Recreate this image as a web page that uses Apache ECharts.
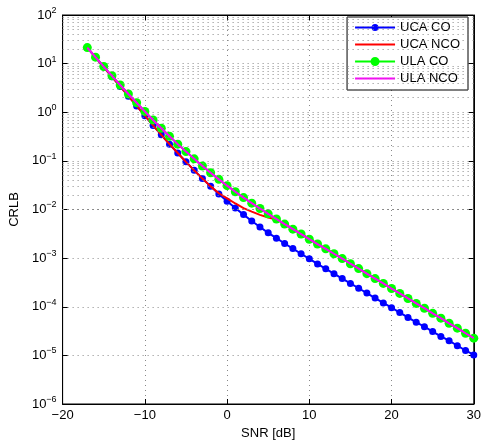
<!DOCTYPE html>
<html>
<head>
<meta charset="utf-8">
<script src="https://cdn.jsdelivr.net/npm/echarts@6/dist/echarts.min.js"></script>
<style>
  html, body { margin: 0; padding: 0; background: #fff; }
  #chart { width: 484px; height: 445px; }
</style>
</head>
<body>
<div id="chart"></div>
<script>
// SNR steps in dB
const snr = [-17, -16, -15, -14, -13, -12, -11, -10, -9, -8, -7, -6, -5, -4, -3, -2, -1,
  0, 1, 2, 3, 4, 5, 6, 7, 8, 9, 10, 11, 12, 13, 14, 15, 16, 17, 18, 19, 20,
  21, 22, 23, 24, 25, 26, 27, 28, 29, 30]

const ucaCo = [21.4, 13.5, 8.51, 5.37, 3.39, 2.14, 1.35, 0.851, 0.537, 0.343, 0.221, 0.145,
  0.0955, 0.0638, 0.0432, 0.0299, 0.0209, 0.0148, 0.0107, 0.00785, 0.00582, 0.00437,
  0.00331, 0.00257, 0.00200, 0.00157, 0.00123, 9.66e-4, 7.59e-4, 6.03e-4, 4.79e-4,
  3.80e-4, 3.02e-4, 2.40e-4, 1.91e-4, 1.51e-4, 1.20e-4, 9.55e-5, 7.59e-5, 6.03e-5,
  4.79e-5, 3.89e-5, 3.09e-5, 2.45e-5, 2.00e-5, 1.58e-5, 1.26e-5, 1.02e-5]

const ucaNco = [21.4, 13.5, 8.51, 5.37, 3.39, 2.14, 1.35, 0.851, 0.537, 0.343, 0.221, 0.145,
  0.0955, 0.0638, 0.0432, 0.0299, 0.0216, 0.0170, 0.0133, 0.0107, 0.00902, 0.00776,
  0.00685, 0.00624, 0.00507, 0.00399, 0.00317, 0.00248, 0.00197, 0.00157, 0.00124,
  9.89e-4, 7.76e-4, 6.17e-4, 4.85e-4, 3.85e-4, 3.06e-4, 2.40e-4, 1.90e-4, 1.50e-4,
  1.18e-4, 9.44e-5, 7.42e-5, 5.89e-5, 4.62e-5, 3.67e-5, 2.88e-5, 2.29e-5]

const ulaCo = [21.4, 13.6, 8.71, 5.62, 3.63, 2.37, 1.57, 1.035, 0.692, 0.468, 0.320, 0.221,
  0.155, 0.110, 0.0785, 0.0569, 0.0417, 0.0309, 0.0232, 0.0176, 0.0135, 0.0105,
  0.00813, 0.00638, 0.00501, 0.00394, 0.00313, 0.00245, 0.00195, 0.00155, 0.00123,
  9.77e-4, 7.67e-4, 6.10e-4, 4.79e-4, 3.80e-4, 3.02e-4, 2.37e-4, 1.88e-4, 1.48e-4,
  1.17e-4, 9.33e-5, 7.33e-5, 5.82e-5, 4.57e-5, 3.63e-5, 2.85e-5, 2.26e-5]

const ulaNco = [21.4, 13.6, 8.71, 5.62, 3.63, 2.37, 1.57, 1.035, 0.692, 0.468, 0.320, 0.221,
  0.155, 0.110, 0.0785, 0.0569, 0.0417, 0.0309, 0.0232, 0.0176, 0.0135, 0.0105,
  0.00813, 0.00638, 0.00501, 0.00394, 0.00313, 0.00245, 0.00195, 0.00155, 0.00123,
  9.77e-4, 7.67e-4, 6.10e-4, 4.79e-4, 3.80e-4, 3.02e-4, 2.37e-4, 1.88e-4, 1.48e-4,
  1.17e-4, 9.33e-5, 7.33e-5, 5.82e-5, 4.57e-5, 3.63e-5, 2.85e-5, 2.26e-5]

const xTicks = [-20, -10, 0, 10, 20, 30]
const decades = [-6, -5, -4, -3, -2, -1, 0, 1]
const minorSteps = [2, 3, 4, 5, 6, 7, 8, 9]

const font = 'Liberation Sans, Arial, Helvetica, sans-serif'
const gridDots = { type: [1, 4], color: '#888', width: 1 }

// legend icons: plain line, line with small dot, line with bigger dot
const iconLine = 'path://M0,6L40,6L40,8L0,8Z'
const iconDotSmall = 'path://M0,6L40,6L40,8L0,8Z M16.5,7A3.5,3.5 0 1 1 23.5,7A3.5,3.5 0 1 1 16.5,7Z'
const iconDotBig = 'path://M0,6L40,6L40,8L0,8Z M15.5,7A4.5,4.5 0 1 1 24.5,7A4.5,4.5 0 1 1 15.5,7Z'

function pairs(values) {
  return snr.map((s, i) => [s, values[i]])
}

// dotted minor grid at 2..9 x 10^k
const minorLines = []
decades.forEach(e => {
  minorSteps.forEach(m => minorLines.push({ yAxis: m * Math.pow(10, e) }))
})

function minus(v) {
  return String(v).replace('-', '\u2212')
}

const chart = echarts.init(document.getElementById('chart'))

const option = {
  animation: false,
  textStyle: { fontFamily: font },
  grid: { left: 59, right: 8, top: 15, bottom: 38, show: true, borderColor: '#000', borderWidth: 1 },
  legend: {
    data: [
      { name: 'UCA CO', icon: iconDotSmall },
      { name: 'UCA NCO', icon: iconLine },
      { name: 'ULA CO', icon: iconDotBig },
      { name: 'ULA NCO', icon: iconLine }
    ],
    orient: 'vertical',
    right: 16,
    top: 17,
    itemWidth: 40,
    itemHeight: 14,
    itemGap: 4,
    symbolKeepAspect: true,
    padding: [4, 8, 5, 8],
    borderColor: '#000',
    borderWidth: 1,
    borderRadius: 0,
    backgroundColor: '#fff',
    textStyle: { fontSize: 13, color: '#000', fontFamily: font }
  },
  xAxis: [{
    type: 'value',
    min: -20,
    max: 30,
    interval: 10,
    name: 'SNR [dB]',
    nameLocation: 'middle',
    nameGap: 23,
    nameTextStyle: { fontSize: 13, color: '#000' },
    axisLine: { onZero: false, lineStyle: { color: '#000' } },
    axisTick: { inside: true, length: 5, lineStyle: { color: '#000' } },
    axisLabel: {
      fontSize: 13, color: '#000', margin: 5,
      formatter: v => xTicks.includes(v) ? minus(v) : ''
    },
    splitLine: { show: true, lineStyle: gridDots }
  }, {
    type: 'value',
    position: 'top',
    min: -20,
    max: 30,
    interval: 10,
    axisLine: { onZero: false, lineStyle: { color: '#000' } },
    axisTick: { inside: true, length: 5, lineStyle: { color: '#000' } },
    axisLabel: { show: false },
    splitLine: { show: false }
  }],
  yAxis: [{
    type: 'log',
    logBase: 10,
    min: 1e-6,
    max: 100,
    interval: 1,
    name: 'CRLB',
    nameLocation: 'middle',
    nameGap: 40,
    nameRotate: 90,
    nameTextStyle: { fontSize: 13, color: '#000' },
    axisLine: { onZero: false, lineStyle: { color: '#000' } },
    axisTick: { inside: true, length: 5, lineStyle: { color: '#000' } },
    axisLabel: {
      color: '#000',
      margin: 6,
      formatter: v => '{b|10}{s|' + minus(Math.round(Math.log10(v))) + '}',
      rich: {
        b: { fontSize: 13, color: '#000', fontFamily: font },
        s: { fontSize: 9, color: '#000', fontFamily: font, padding: [0, 0, 9, 0] }
      }
    },
    splitLine: { show: true, lineStyle: gridDots }
  }, {
    type: 'log',
    logBase: 10,
    min: 1e-6,
    max: 100,
    interval: 1,
    position: 'right',
    axisLine: { onZero: false, lineStyle: { color: '#000' } },
    axisTick: { inside: true, length: 5, lineStyle: { color: '#000' } },
    axisLabel: { show: false },
    splitLine: { show: false }
  }],
  series: [{
    name: 'grid',
    type: 'line',
    z: 1,
    data: [],
    markLine: {
      silent: true,
      symbol: ['none', 'none'],
      label: { show: false },
      lineStyle: gridDots,
      data: minorLines
    }
  }, {
    name: 'UCA CO',
    type: 'line',
    z: 2,
    data: pairs(ucaCo),
    color: '#0000ff',
    symbol: 'circle',
    symbolSize: 7,
    lineStyle: { width: 2, color: '#0000ff' },
    itemStyle: { color: '#0000ff' }
  }, {
    name: 'UCA NCO',
    type: 'line',
    z: 3,
    data: pairs(ucaNco),
    color: '#ff0000',
    symbol: 'none',
    lineStyle: { width: 2, color: '#ff0000' },
    itemStyle: { color: '#ff0000' }
  }, {
    name: 'ULA CO',
    type: 'line',
    z: 4,
    data: pairs(ulaCo),
    color: '#00ff00',
    symbol: 'circle',
    symbolSize: 9,
    lineStyle: { width: 2, color: '#00ff00' },
    itemStyle: { color: '#00ff00' }
  }, {
    name: 'ULA NCO',
    type: 'line',
    z: 5,
    data: pairs(ulaNco),
    color: '#ff00ff',
    symbol: 'none',
    lineStyle: { width: 2, color: '#ff00ff' },
    itemStyle: { color: '#ff00ff' }
  }]
}

chart.setOption(option)
</script>
</body>
</html>
